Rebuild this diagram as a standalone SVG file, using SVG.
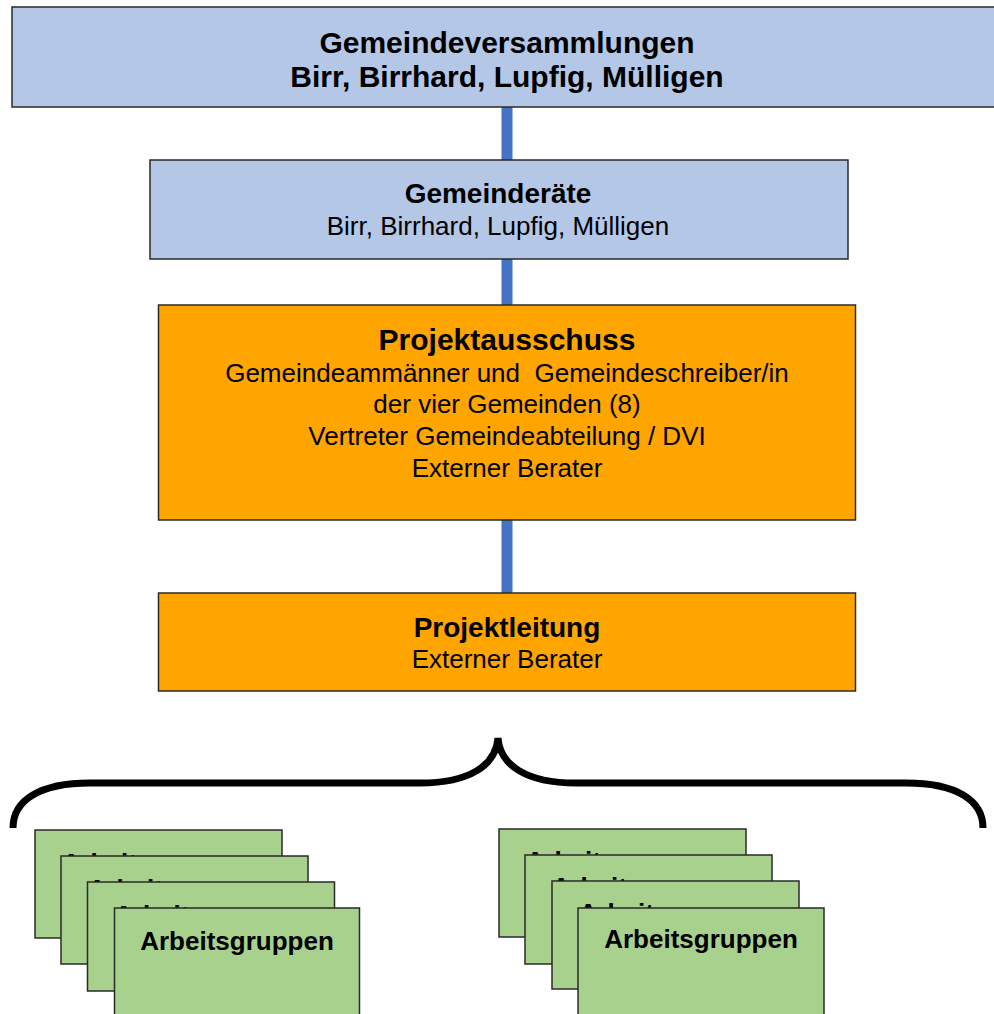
<svg xmlns="http://www.w3.org/2000/svg" width="994" height="1014" viewBox="0 0 994 1014">
<style>
  .box { stroke: #2a2a2a; stroke-width: 1.5; }
  .blue { fill: #B4C7E7; }
  .orange { fill: #FFA500; }
  .green { fill: #A9D18E; }
  .t { font-family: "Liberation Sans", Arial, sans-serif; fill: #000; text-anchor: middle; }
  .b { font-weight: bold; }
  .conn { fill: #4472C4; }
  .brace { fill: none; stroke: #000; stroke-width: 7; stroke-linecap: butt; }
</style>
<rect width="994" height="1014" fill="#ffffff"/>
<g id="connectors">
  <rect class="conn" x="501.5" y="107" width="11" height="53"/>
  <rect class="conn" x="501.5" y="259" width="11" height="46"/>
  <rect class="conn" x="501.5" y="520" width="11" height="73"/>
  <path class="brace" d="M13,828 C13,800 40,783 90,783 L420,783 C470,783 496,765 498,738 C500,765 526,783 576,783 L906,783 C956,783 983,800 983,828"/>
</g>
<g id="gemeindeversammlungen">
  <rect class="box blue" x="12" y="7" width="990" height="100"/>
  <text class="t b" x="507" y="53" font-size="30">Gemeindeversammlungen</text>
  <text class="t b" x="507" y="87" font-size="30">Birr, Birrhard, Lupfig, Mülligen</text>
</g>
<g id="gemeinderaete">
  <rect class="box blue" x="150" y="160" width="698" height="99"/>
  <text class="t b" x="498" y="203" font-size="28">Gemeinderäte</text>
  <text class="t" x="498" y="235" font-size="26">Birr, Birrhard, Lupfig, Mülligen</text>
</g>
<g id="projektausschuss">
  <rect class="box orange" x="158.5" y="305" width="697" height="215"/>
  <text class="t b" x="507" y="350" font-size="30">Projektausschuss</text>
  <text class="t" x="507" y="382" font-size="26" xml:space="preserve">Gemeindeammänner und  Gemeindeschreiber/in</text>
  <text class="t" x="507" y="413" font-size="26">der vier Gemeinden (8)</text>
  <text class="t" x="507" y="445" font-size="26">Vertreter Gemeindeabteilung / DVI</text>
  <text class="t" x="507" y="477" font-size="26">Externer Berater</text>
</g>
<g id="projektleitung">
  <rect class="box orange" x="158.5" y="593" width="697" height="98"/>
  <text class="t b" x="507" y="637" font-size="28">Projektleitung</text>
  <text class="t" x="507" y="668" font-size="26">Externer Berater</text>
</g>
<g id="arbeitsgruppen-links">
  <rect class="box green" x="35" y="830" width="247" height="108"/>
  <text class="t b" x="158.5" y="872" font-size="26">Arbeitsgruppen</text>
  <rect class="box green" x="61" y="856" width="247" height="108"/>
  <text class="t b" x="184.5" y="898" font-size="26">Arbeitsgruppen</text>
  <rect class="box green" x="87.5" y="882" width="247" height="109"/>
  <text class="t b" x="211" y="924" font-size="26">Arbeitsgruppen</text>
  <rect class="box green" x="114.5" y="908" width="245" height="120"/>
  <text class="t b" x="237" y="950" font-size="26">Arbeitsgruppen</text>
</g>
<g id="arbeitsgruppen-rechts">
  <rect class="box green" x="499" y="829" width="247" height="108"/>
  <text class="t b" x="622.5" y="870" font-size="26">Arbeitsgruppen</text>
  <rect class="box green" x="525" y="855" width="247" height="109"/>
  <text class="t b" x="648.5" y="896" font-size="26">Arbeitsgruppen</text>
  <rect class="box green" x="552" y="881" width="247" height="108"/>
  <text class="t b" x="675.5" y="922" font-size="26">Arbeitsgruppen</text>
  <rect class="box green" x="578" y="908" width="246" height="120"/>
  <text class="t b" x="701" y="948" font-size="26">Arbeitsgruppen</text>
</g>
</svg>
